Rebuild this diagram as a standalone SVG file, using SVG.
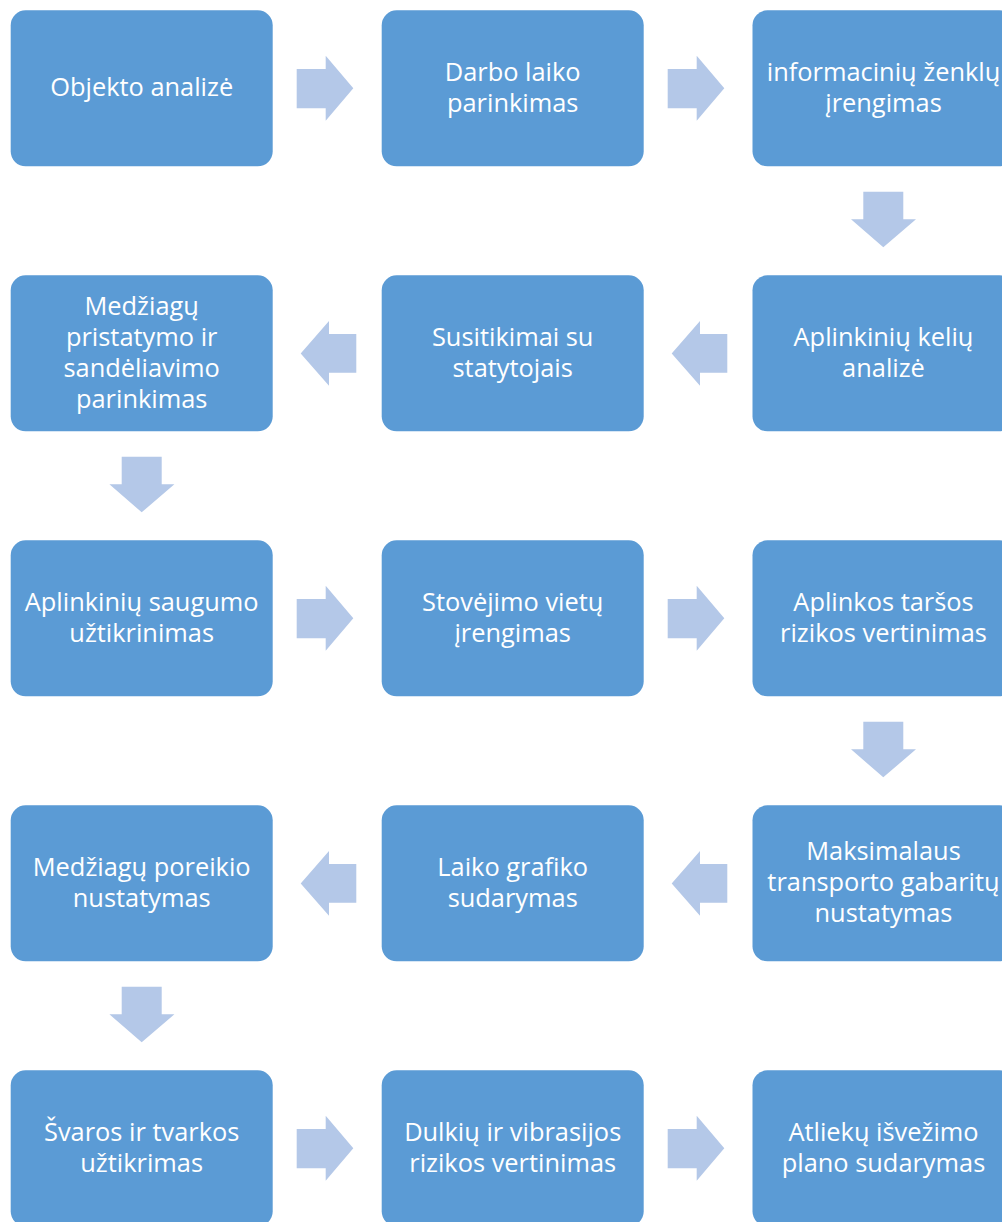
<svg xmlns="http://www.w3.org/2000/svg" width="1002" height="1222" viewBox="0 0 1002 1222">
<style>
.box{fill:#5B9BD5;}
.t{font-family:"Open Sans","Noto Sans","Liberation Sans",sans-serif;font-size:25.4px;fill:#FFFFFF;text-anchor:middle;}
.arr{fill:#B4C8E8;}
</style>
<defs>
<path id="ar" d="M0,13.3 H29 V0 L56.6,32.5 L29,65 V52.6 H0 Z"/>
<path id="al" d="M55.6,13 H28.3 V0 L0,32.4 L28.3,64.7 V51.7 H55.6 Z"/>
<path id="ad" d="M12.3,0 H52.3 V27.6 H65 L32.3,55.6 L0,27.6 H12.3 Z"/>
</defs>
<g id="connectors">
<use href="#ar" class="arr" x="296.7" y="55.7"/>
<use href="#ar" class="arr" x="667.7" y="55.7"/>
<use href="#ad" class="arr" x="851" y="191.7"/>
<use href="#al" class="arr" x="671.7" y="321"/>
<use href="#al" class="arr" x="300.7" y="321"/>
<use href="#ad" class="arr" x="109.4" y="456.7"/>
<use href="#ar" class="arr" x="296.7" y="585.7"/>
<use href="#ar" class="arr" x="667.7" y="585.7"/>
<use href="#ad" class="arr" x="851" y="721.7"/>
<use href="#al" class="arr" x="671.7" y="851"/>
<use href="#al" class="arr" x="300.7" y="851"/>
<use href="#ad" class="arr" x="109.4" y="986.7"/>
<use href="#ar" class="arr" x="296.7" y="1115.7"/>
<use href="#ar" class="arr" x="667.7" y="1115.7"/>
</g>
<g id="n1"><rect class="box" x="10.7" y="10.3" width="262" height="156" rx="15"/><text class="t" x="141.7" y="96">Objekto analizė</text></g>
<g id="n2"><rect class="box" x="381.7" y="10.3" width="262" height="156" rx="15"/><text class="t" x="512.7" y="80.5">Darbo laiko</text><text class="t" x="512.7" y="111.5">parinkimas</text></g>
<g id="n3"><rect class="box" x="752.5" y="10.3" width="262" height="156" rx="15"/><text class="t" x="883.5" y="80.5">informacinių ženklų</text><text class="t" x="883.5" y="111.5">įrengimas</text></g>
<g id="n4"><rect class="box" x="752.5" y="275.3" width="262" height="156" rx="15"/><text class="t" x="883.5" y="345.5">Aplinkinių kelių</text><text class="t" x="883.5" y="376.5">analizė</text></g>
<g id="n5"><rect class="box" x="381.7" y="275.3" width="262" height="156" rx="15"/><text class="t" x="512.7" y="345.5">Susitikimai su</text><text class="t" x="512.7" y="376.5">statytojais</text></g>
<g id="n6"><rect class="box" x="10.7" y="275.3" width="262" height="156" rx="15"/><text class="t" x="141.7" y="314.5">Medžiagų</text><text class="t" x="141.7" y="345.5">pristatymo ir</text><text class="t" x="141.7" y="376.5">sandėliavimo</text><text class="t" x="141.7" y="407.5">parinkimas</text></g>
<g id="n7"><rect class="box" x="10.7" y="540.3" width="262" height="156" rx="15"/><text class="t" x="141.7" y="610.5">Aplinkinių saugumo</text><text class="t" x="141.7" y="641.5">užtikrinimas</text></g>
<g id="n8"><rect class="box" x="381.7" y="540.3" width="262" height="156" rx="15"/><text class="t" x="512.7" y="610.5">Stovėjimo vietų</text><text class="t" x="512.7" y="641.5">įrengimas</text></g>
<g id="n9"><rect class="box" x="752.5" y="540.3" width="262" height="156" rx="15"/><text class="t" x="883.5" y="610.5">Aplinkos taršos</text><text class="t" x="883.5" y="641.5">rizikos vertinimas</text></g>
<g id="n10"><rect class="box" x="752.5" y="805.3" width="262" height="156" rx="15"/><text class="t" x="883.5" y="860">Maksimalaus</text><text class="t" x="883.5" y="891">transporto gabaritų</text><text class="t" x="883.5" y="922">nustatymas</text></g>
<g id="n11"><rect class="box" x="381.7" y="805.3" width="262" height="156" rx="15"/><text class="t" x="512.7" y="875.5">Laiko grafiko</text><text class="t" x="512.7" y="906.5">sudarymas</text></g>
<g id="n12"><rect class="box" x="10.7" y="805.3" width="262" height="156" rx="15"/><text class="t" x="141.7" y="875.5">Medžiagų poreikio</text><text class="t" x="141.7" y="906.5">nustatymas</text></g>
<g id="n13"><rect class="box" x="10.7" y="1070.3" width="262" height="156" rx="15"/><text class="t" x="141.7" y="1140.5">Švaros ir tvarkos</text><text class="t" x="141.7" y="1171.5">užtikrimas</text></g>
<g id="n14"><rect class="box" x="381.7" y="1070.3" width="262" height="156" rx="15"/><text class="t" x="512.7" y="1140.5">Dulkių ir vibrasijos</text><text class="t" x="512.7" y="1171.5">rizikos vertinimas</text></g>
<g id="n15"><rect class="box" x="752.5" y="1070.3" width="262" height="156" rx="15"/><text class="t" x="883.5" y="1140.5">Atliekų išvežimo</text><text class="t" x="883.5" y="1171.5">plano sudarymas</text></g>
</svg>
